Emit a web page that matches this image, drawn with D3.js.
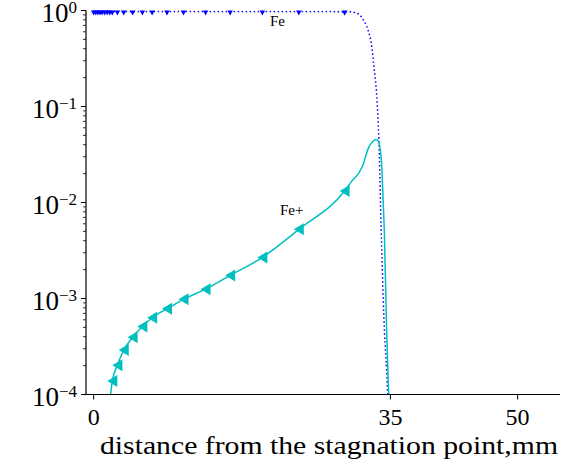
<!DOCTYPE html>
<html>
<head>
<meta charset="utf-8">
<script src="https://cdnjs.cloudflare.com/ajax/libs/d3/7.8.5/d3.min.js"></script>
<style>
  body { margin: 0; background: white; }
  text { font-family: "Liberation Serif", "Times New Roman", Times, serif; fill: black; }
</style>
</head>
<body>
<div id="chart"></div>
<script>
// distance from stagnation point (mm)
const distance = [0, 0.25, 0.5, 0.75, 1.0, 1.3, 1.6, 1.9, 2.2, 2.8, 3.55, 4.6, 5.75, 6.9, 8.65, 10.6, 13.2, 16.1, 19.9, 24.2, 29.6,
                  30.4, 31.3, 31.8, 32.35, 32.8, 33.0, 33.2, 33.4, 33.5, 33.6, 33.75, 33.9, 34.0, 34.15, 34.3, 34.55, 34.75, 34.9];
// Fe mole fraction
const fe = [0.975, 0.975, 0.975, 0.975, 0.975, 0.975, 0.975, 0.975, 0.975, 0.975, 0.975, 0.975, 0.975, 0.975, 0.975, 0.975, 0.975, 0.975, 0.975, 0.975, 0.972,
            0.965, 0.91, 0.80, 0.63, 0.42, 0.29, 0.2, 0.125, 0.085, 0.057, 0.02, 5.5e-3, 2.8e-3, 1.0e-3, 4.5e-4, 1.8e-4, 7e-5, 4e-5];
// Fe+ mole fraction
const feIon = [2e-6, 4e-6, 7e-6, 1.2e-5, 2e-5, 4e-5, 6e-5, 8.5e-5, 1.38e-4, 2.02e-4, 2.9e-4, 3.95e-4, 5.1e-4, 6.3e-4, 7.8e-4, 9.8e-4, 1.25e-3, 1.74e-3, 2.68e-3, 5.25e-3, 1.32e-2,
               1.65e-2, 2.05e-2, 2.5e-2, 3.6e-2, 4.2e-2, 4.4e-2, 4.5e-2, 4.5e-2, 4.45e-2, 4.3e-2, 3.8e-2, 3.0e-2, 2.2e-2, 1.0e-2, 4.5e-3, 4.7e-4, 1.3e-4, 7e-5];
const markerCount = 21; // markers only on the first points
const xTicks = [0, 35, 50];
const yTicks = [1e-4, 1e-3, 1e-2, 1e-1, 1e0];
const yTickExp = ['\u22124', '\u22123', '\u22122', '\u22121', '0'];
const xLabel = 'distance from the stagnation point,mm';

const width = 566, height = 466;
const plotLeft = 86, plotRight = 560, plotTop = 10.5, plotBottom = 394.5;

const svg = d3.select('#chart').append('svg')
    .attr('width', width)
    .attr('height', height)
    .style('background-color', 'white');

const x = d3.scaleLinear().domain([-0.9, 55]).range([plotLeft, plotRight]);
const y = d3.scaleLog().domain([1e-4, 1e0]).range([plotBottom, plotTop]);

svg.append('clipPath').attr('id', 'plotClip')
    .append('rect')
    .attr('x', plotLeft).attr('y', plotTop)
    .attr('width', plotRight - plotLeft).attr('height', plotBottom - plotTop);

const rows = distance.map((d, i) => ({d: d, fe: fe[i], ion: feIon[i], i: i}));
const plot = svg.append('g').attr('clip-path', 'url(#plotClip)');

// Fe : blue dotted
plot.append('path')
    .datum(rows)
    .attr('fill', 'none')
    .attr('stroke', '#0000ff')
    .attr('stroke-width', 1.5)
    .attr('stroke-dasharray', '1.5,2.5')
    .attr('d', d3.line().curve(d3.curveMonotoneX).x(r => x(r.d)).y(r => y(r.fe)));

// Fe+ : cyan solid
plot.append('path')
    .datum(rows)
    .attr('fill', 'none')
    .attr('stroke', '#00bfbf')
    .attr('stroke-width', 1.5)
    .attr('d', d3.line().curve(d3.curveMonotoneX).x(r => x(r.d)).y(r => y(r.ion)));

const marked = rows.filter(r => r.i < markerCount);

plot.selectAll('.feMark')
    .data(marked)
    .enter()
    .append('path')
    .classed('feMark', true)
    .attr('fill', '#0000ff')
    .attr('d', r => {
        const cx = x(r.d), cy = y(r.fe);
        return `M${cx - 4},${cy - 3.5}L${cx + 4},${cy - 3.5}L${cx},${cy + 4}Z`;
    });

plot.selectAll('.ionMark')
    .data(marked)
    .enter()
    .append('path')
    .classed('ionMark', true)
    .attr('fill', '#00bfbf')
    .attr('d', r => {
        const cx = x(r.d), cy = y(r.ion);
        return `M${cx - 5},${cy}L${cx + 5},${cy - 6}L${cx + 5},${cy + 6}Z`;
    });

// spines
svg.append('line')
    .attr('x1', plotLeft).attr('x2', plotLeft)
    .attr('y1', plotTop).attr('y2', plotBottom)
    .attr('stroke', 'black').attr('stroke-width', 1.2);
svg.append('line')
    .attr('x1', plotLeft).attr('x2', plotRight)
    .attr('y1', plotBottom).attr('y2', plotBottom)
    .attr('stroke', 'black').attr('stroke-width', 1.2);

// x ticks
const xt = svg.append('g');
xTicks.forEach(t => {
    xt.append('line')
        .attr('x1', x(t)).attr('x2', x(t))
        .attr('y1', plotBottom).attr('y2', plotBottom + 5)
        .attr('stroke', 'black').attr('stroke-width', 1);
    xt.append('text')
        .attr('x', x(t))
        .attr('y', plotBottom + 30)
        .attr('text-anchor', 'middle')
        .attr('font-size', 24)
        .text(t);
});

// y ticks (major + minor)
const yt = svg.append('g');
yTicks.forEach((t, i) => {
    yt.append('line')
        .attr('x1', plotLeft - 5).attr('x2', plotLeft)
        .attr('y1', y(t)).attr('y2', y(t))
        .attr('stroke', 'black').attr('stroke-width', 1);
    const lbl = yt.append('text')
        .attr('x', 77)
        .attr('y', y(t) + 11)
        .attr('text-anchor', 'end')
        .attr('font-size', 27);
    lbl.append('tspan').text('10');
    lbl.append('tspan')
        .attr('font-size', 17)
        .attr('dy', -9)
        .text(yTickExp[i]);
    if (i < yTicks.length - 1) {
        for (let k = 2; k <= 9; k++) {
            yt.append('line')
                .attr('x1', plotLeft - 3).attr('x2', plotLeft)
                .attr('y1', y(k * t)).attr('y2', y(k * t))
                .attr('stroke', 'black').attr('stroke-width', 0.8);
        }
    }
});

// labels
svg.append('text')
    .attr('x', 329)
    .attr('y', 454)
    .attr('text-anchor', 'middle')
    .attr('font-size', 25)
    .attr('textLength', 458)
    .attr('lengthAdjust', 'spacingAndGlyphs')
    .text(xLabel);

svg.append('text')
    .attr('x', 270).attr('y', 26)
    .attr('font-size', 15)
    .text('Fe');
svg.append('text')
    .attr('x', 280).attr('y', 215)
    .attr('font-size', 15)
    .text('Fe+');
</script>
</body>
</html>
